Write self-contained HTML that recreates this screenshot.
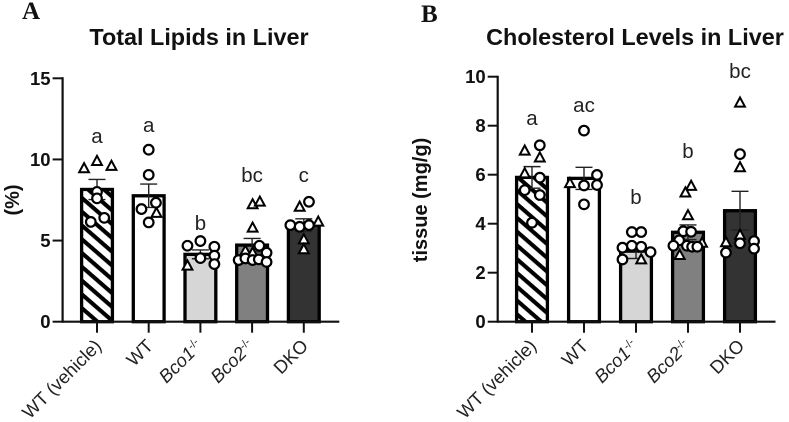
<!DOCTYPE html>
<html lang="en">
<head>
<meta charset="utf-8">
<title>Total Lipids and Cholesterol Levels in Liver</title>
<style>
html,body{margin:0;padding:0;background:#fff;}
body{width:789px;height:422px;overflow:hidden;}
svg{display:block;filter:blur(0.35px);}
text{font-family:"Liberation Sans",sans-serif;fill:#111;}
.tick{font-size:18.5px;font-weight:bold;}
.title{font-size:23.4px;font-weight:bold;}
.axis-title{font-size:20px;font-weight:bold;}
.panel{font-family:"Liberation Serif",serif;font-size:25px;font-weight:bold;}
.cat{font-size:18.4px;fill:#222;}
.sig{font-size:20.5px;fill:#222;}
</style>
</head>
<body>
<svg id="figure" xmlns="http://www.w3.org/2000/svg" width="789" height="422" viewBox="0 0 789 422">
<defs>
<pattern id="hatch" patternUnits="userSpaceOnUse" width="10.4" height="10.4" patternTransform="rotate(41)">
<rect width="10.4" height="10.4" fill="#fff"></rect>
<rect width="10.4" height="4.1" fill="#000"></rect>
</pattern>
</defs>
<text class="panel" x="22" y="19">A</text>
<text class="panel" x="421" y="22">B</text>
<text class="title" x="199" y="45" text-anchor="middle">Total Lipids in Liver</text>
<text class="title" x="635" y="45" text-anchor="middle">Cholesterol Levels in Liver</text>
<text class="axis-title" transform="translate(19,200) rotate(-90)" text-anchor="middle">(%)</text>
<text class="axis-title" transform="translate(427,200) rotate(-90)" text-anchor="middle">tissue (mg/g)</text>
</svg>
<script>
// Shared categories and fills
const categories = ['WT (vehicle)', 'WT', 'Bco1', 'Bco2', 'DKO'];
const categorySuperscripts = ['', '', '-/-', '-/-', ''];
const barFills = ['url(#hatch)', '#ffffff', '#d6d6d6', '#808080', '#333333'];

// Total lipids (%)
const lipidTicks = [0, 5, 10, 15];
const lipidMeans = [8.15, 7.76, 4.15, 4.72, 5.95];
const lipidErrors = [0.62, 0.72, 0.27, 0.41, 0.39];
const lipidLetters = ['a', 'a', 'b', 'bc', 'c'];
const lipidLetterLevels = [11.0, 11.7, 5.65, 8.6, 8.6];
const lipidCircles = [
  [8.0, 7.6, 6.4, 6.15],
  [10.6, 9.05, 7.33, 6.94, 6.12],
  [4.68, 4.97, 4.62, 4.07, 3.92, 3.55],
  [4.68, 4.25, 3.8, 3.9, 3.8, 3.84, 3.68],
  [7.39, 5.95, 5.85, 5.95]
];
const lipidCircleSpread = [
  [0, 0, 0.14, -0.12],
  [0, 0, 0.14, -0.14, 0],
  [-0.25, 0, 0.27, 0.27, 0, 0.27],
  [0.14, 0.28, -0.26, -0.13, 0.01, 0.13, 0.28],
  [0.1, -0.26, -0.08, 0.1]
];
const lipidTriangles = [
  [9.45, 9.9, 9.6],
  [6.7],
  [3.45],
  [7.23, 7.39, 5.79, 4.37, 4.25],
  [7.08, 6.16, 5.07, 4.46]
];
const lipidTriangleSpread = [
  [-0.25, 0, 0.28],
  [0.15],
  [-0.25],
  [0.01, 0.15, 0.01, -0.13, 0.01],
  [-0.08, 0.28, 0, 0]
];

// Cholesterol (mg/g)
const cholesterolTicks = [0, 2, 4, 6, 8, 10];
const cholesterolMeans = [5.89, 5.85, 2.88, 3.65, 4.53];
const cholesterolErrors = [0.44, 0.45, 0.3, 0.3, 0.79];
const cholesterolLetters = ['a', 'ac', 'b', 'b', 'bc'];
const cholesterolLetterLevels = [8.03, 8.56, 4.8, 6.68, 9.95];
const cholesterolCircles = [
  [7.2, 5.88, 5.37, 5.17, 4.04],
  [7.8, 5.56, 5.99, 5.58, 4.79],
  [3.66, 3.66, 3.02, 3.1, 3.06, 2.84, 2.54],
  [3.69, 3.67, 3.32, 3.1, 3.1, 3.06, 3.06],
  [6.84, 3.2, 3.29, 2.98, 2.82]
];
const cholesterolCircleSpread = [
  [0.15, 0.15, -0.14, 0.15, 0],
  [0, 0, 0.25, 0.25, 0],
  [-0.08, 0.1, -0.26, -0.08, 0.1, 0.28, -0.26],
  [-0.09, 0.06, -0.17, -0.28, -0.02, 0.08, 0.18],
  [0, 0, 0.27, 0.27, -0.27]
];
const cholesterolTriangles = [
  [6.98, 6.7, 6.05],
  [5.65],
  [2.54],
  [5.54, 5.27, 4.34, 3.22, 2.72],
  [8.94, 6.3, 3.54, 3.24]
];
const cholesterolTriangleSpread = [
  [-0.14, 0.15, -0.14],
  [-0.27],
  [0.1],
  [0.06, -0.05, 0, 0.27, -0.16],
  [0, 0, 0, -0.27]
];

const SVG_NS = 'http://www.w3.org/2000/svg';
const figure = document.getElementById('figure');

function make(tag, attrs, parent) {
  const el = document.createElementNS(SVG_NS, tag);
  for (const k in attrs) el.setAttribute(k, attrs[k]);
  parent.appendChild(el);
  return el;
}

function drawChart(cfg) {
  const yScale = v => cfg.y0 - (v / cfg.max) * (cfg.y0 - cfg.yTop);
  const xScale = i => cfg.x0 + i * cfg.step;
  const group = make('g', {}, figure);
  
  

  // bars
  cfg.means.forEach((m, i) => {
    const bar = make('rect', {
      x: xScale(i) - 15.4, y: yScale(m), width: 30.8, height: cfg.y0 - yScale(m),
      fill: barFills[i], stroke: '#000', 'stroke-width': 3.3
    }, group);
    
    
  });

  // error bars
  cfg.means.forEach((m, i) => {
    const err = make('path', {
      d: 'M' + xScale(i) + ' ' + yScale(m - cfg.errors[i]) + 'V' + yScale(m + cfg.errors[i]) +
         'M' + (xScale(i) - 8.5) + ' ' + yScale(m + cfg.errors[i]) + 'h17' +
         'M' + (xScale(i) - 8.5) + ' ' + yScale(m - cfg.errors[i]) + 'h17',
      fill: 'none', stroke: '#222', 'stroke-width': 1.4
    }, group);
    
    
  });

  // triangles
  cfg.triangles.forEach((vals, i) => {
    vals.forEach((v, j) => {
      const cx = xScale(i) + cfg.triSpread[i][j] * cfg.step;
      const cy = yScale(v);
      const tri = make('path', {
        d: 'M' + cx + ' ' + (cy - 5.2) + 'L' + (cx + 4.9) + ' ' + (cy + 3.9) + 'H' + (cx - 4.9) + 'Z',
        fill: '#fff', stroke: '#000', 'stroke-width': 2, 'stroke-linejoin': 'miter'
      }, group);
      
      
    });
  });

  // circles
  cfg.circles.forEach((vals, i) => {
    vals.forEach((v, j) => {
      const dot = make('circle', {
        cx: xScale(i) + cfg.circSpread[i][j] * cfg.step, cy: yScale(v), r: 4.8,
        fill: '#fff', stroke: '#000', 'stroke-width': 2.2
      }, group);
      
      
    });
  });

  // axes
  const yAxis = make('line', {
    x1: cfg.axisX, x2: cfg.axisX, y1: yScale(cfg.max) - 1, y2: cfg.y0 + 1, stroke: '#111', 'stroke-width': 2.2
  }, group);
  
  
  const xAxis = make('line', {
    x1: cfg.axisX, x2: xScale(4) + 35.5, y1: cfg.y0, y2: cfg.y0, stroke: '#111', 'stroke-width': 2.2
  }, group);
  
  

  // y ticks
  cfg.ticks.forEach(t => {
    const mark = make('line', {
      x1: cfg.axisX - 10, x2: cfg.axisX, y1: yScale(t), y2: yScale(t), stroke: '#111', 'stroke-width': 2
    }, group);
    
    
    const label = make('text', {
      class: 'tick', x: cfg.axisX - 12, y: yScale(t) + 6.5, 'text-anchor': 'end'
    }, group);
    label.textContent = t;
    
    
  });

  // x ticks and labels
  categories.forEach((c, i) => {
    const mark = make('line', {
      x1: xScale(i), x2: xScale(i), y1: cfg.y0, y2: cfg.y0 + 11, stroke: '#111', 'stroke-width': 2
    }, group);
    
    
    const nudge = categorySuperscripts[i] ? 3 : 5.5;
    const label = make('text', {
      class: 'cat', 'text-anchor': 'end',
      transform: 'translate(' + (xScale(i) + nudge) + ',347) rotate(-45)'
    }, group);
    
    
    const main = make('tspan', categorySuperscripts[i] ? { 'font-style': 'italic' } : {}, label);
    main.textContent = c;
    if (categorySuperscripts[i]) {
      const sup = make('tspan', { dy: -6, 'font-size': 11 }, label);
      sup.textContent = categorySuperscripts[i];
    }
  });

  // significance letters
  cfg.letters.forEach((s, i) => {
    const label = make('text', {
      class: 'sig', x: xScale(i), y: yScale(cfg.letterLevels[i]), 'text-anchor': 'middle'
    }, group);
    label.textContent = s;
    
    
  });
}

drawChart({
  name: 'lipids', max: 15, y0: 321.7, yTop: 78.3, axisX: 62.6, x0: 97, step: 51.7,
  ticks: lipidTicks, means: lipidMeans, errors: lipidErrors,
  letters: lipidLetters, letterLevels: lipidLetterLevels,
  circles: lipidCircles, circSpread: lipidCircleSpread,
  triangles: lipidTriangles, triSpread: lipidTriangleSpread
});
drawChart({
  name: 'cholesterol', max: 10, y0: 321.7, yTop: 76.7, axisX: 497.7, x0: 532, step: 52,
  ticks: cholesterolTicks, means: cholesterolMeans, errors: cholesterolErrors,
  letters: cholesterolLetters, letterLevels: cholesterolLetterLevels,
  circles: cholesterolCircles, circSpread: cholesterolCircleSpread,
  triangles: cholesterolTriangles, triSpread: cholesterolTriangleSpread
});
</script>
</body>
</html>
